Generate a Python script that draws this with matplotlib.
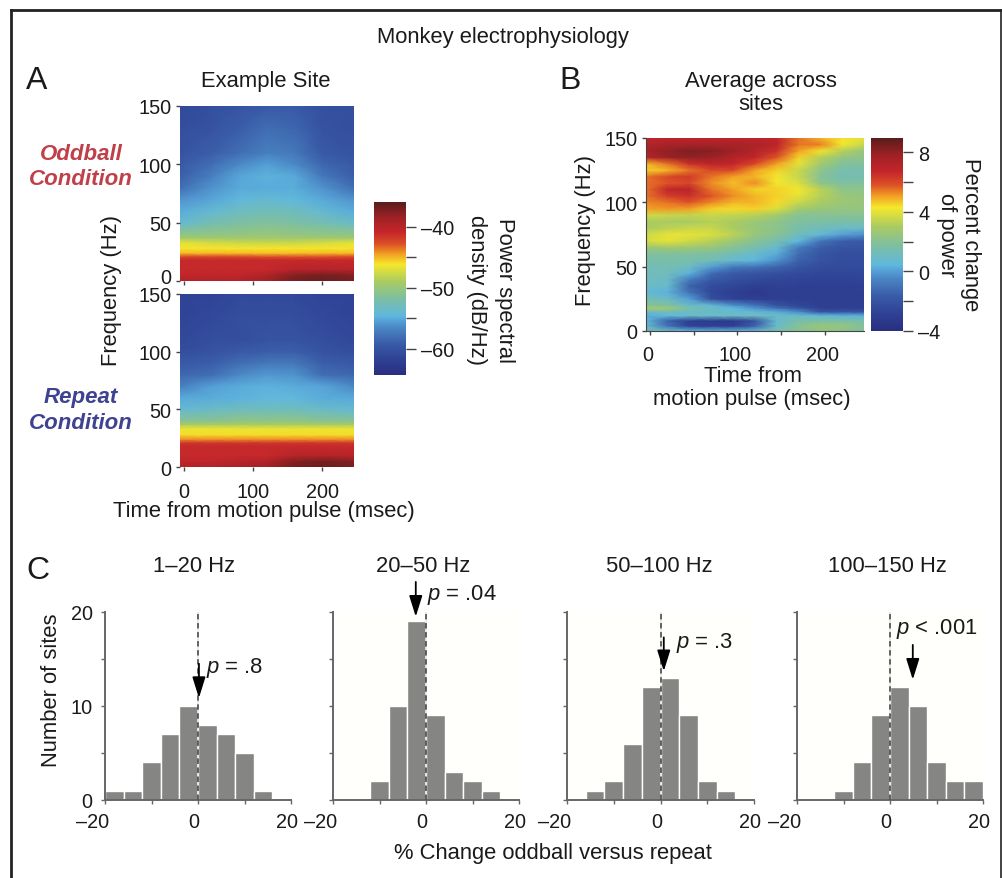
import numpy as np
import matplotlib
matplotlib.use('Agg')
import matplotlib.pyplot as plt
from matplotlib.colors import LinearSegmentedColormap, Normalize
from matplotlib.lines import Line2D
from matplotlib.transforms import ScaledTranslation

plt.rcParams['font.family'] = ['Liberation Sans', 'DejaVu Sans']
plt.rcParams['mathtext.fontset'] = 'custom'
plt.rcParams['mathtext.it'] = 'Liberation Sans:italic'
plt.rcParams['mathtext.rm'] = 'Liberation Sans'

W, H = 1002, 879

# panel A, power in dB/Hz
a_times = [-6, 40, 80, 120, 160, 200, 246]
a_freqs = [0, 5, 10, 18, 21, 24, 28, 33, 37, 40, 50, 60, 70, 80, 90, 100, 110, 130, 150]
oddball = [
    [-39.5, -39.5, -39.5, -38.5, -36.8, -36.5, -37],
    [-40.5, -40.5, -40.5, -39.5, -37.5, -37, -37.5],
    [-41, -41, -41, -41, -40, -39.8, -40],
    [-41, -41, -41, -41, -41, -41, -41],
    [-42.5, -42.5, -42.5, -42.8, -42.8, -42.8, -42.5],
    [-45, -45, -45, -45.2, -45.2, -45, -45],
    [-46, -46, -46, -46, -46, -46, -46],
    [-46.8, -47.5, -47.8, -47.8, -47.8, -47.5, -46.8],
    [-49.5, -49.5, -49.5, -49.5, -49.5, -49.5, -49.5],
    [-50.5, -50.5, -50.3, -50, -50.3, -50.5, -50.5],
    [-54, -52.5, -51.8, -51.5, -51.8, -52.5, -53.5],
    [-55, -54, -53.2, -52.8, -53, -54, -55],
    [-56, -55.3, -54.5, -54, -54.5, -55.2, -56],
    [-58, -56, -55.2, -55, -55, -56, -58],
    [-59, -57, -55.3, -54.8, -55.2, -57.5, -59],
    [-59.5, -58, -56.5, -55.5, -56.5, -58.5, -59.5],
    [-60, -59, -58, -57, -57.5, -59.5, -60],
    [-60.5, -60, -59, -58, -58.5, -60, -60.5],
    [-61, -60.5, -60, -59.5, -59.5, -60.5, -60.5],
]
repeat = [
    [-39.5, -39.5, -39, -38.5, -36.8, -36.5, -37],
    [-40.5, -40.5, -40, -39.5, -37.5, -37, -37.5],
    [-41, -41, -41, -41, -40, -39.8, -40],
    [-41, -41, -41, -41, -41, -41, -41],
    [-41.5, -41.5, -41.5, -41.5, -41.5, -41.5, -41.5],
    [-44, -44, -44, -44, -44, -44, -44],
    [-45.8, -45.8, -45.8, -45.8, -45.8, -45.8, -45.8],
    [-46.5, -46.5, -46.5, -46.5, -46.5, -46.5, -46.5],
    [-49, -49, -49, -49, -49, -49, -49],
    [-51, -51, -50.5, -50.5, -50.5, -51, -51],
    [-54, -53.5, -53, -53, -53, -53.5, -54],
    [-55.2, -55, -54.8, -54.5, -54.5, -55, -55.2],
    [-57, -55.5, -55, -54.8, -55, -55.3, -56.5],
    [-58.5, -58, -56.5, -55.8, -56, -58, -58.5],
    [-59.5, -59, -58, -57.5, -57.5, -59, -59.5],
    [-60.5, -60, -59.5, -59, -59, -60, -60.5],
    [-61, -60.5, -60.5, -60, -60, -60.5, -61],
    [-61.5, -61, -60.5, -60.5, -60.5, -61, -61.5],
    [-61.5, -61.5, -61, -61, -61, -61.5, -61.5],
]

# panel B, percent change
b_times = [-5, 20, 45, 70, 95, 120, 145, 170, 195, 220, 245]
b_freqs = [0, 4, 8, 12, 15, 18, 20, 25, 30, 35, 40, 45, 50, 55, 60, 65, 70, 75, 80, 85, 90, 95,
           100, 105, 110, 115, 120, 125, 130, 135, 140, 145, 150]
average = [
    [1.5, 1, 0.4, 0.3, 0.3, 0.6, 1.3, 2, 2.3, 2.2, 1.8],
    [0.8, -1, -2.8, -3, -3, -1.5, 1, 2, 2.5, 2.4, 1.9],
    [0.5, -1.5, -3, -3.2, -3.3, -2, 0.6, 1.6, 1.7, 1.7, 1.5],
    [0.2, 0.5, 0.8, 0.9, 1, 1.2, 1, 0.8, 0.5, 0.3, 0.3],
    [1, 1.2, 1, 0.9, 0.8, 0.5, 0.2, -0.4, -2, -2, -2],
    [3, 2.8, 1.5, 1, 0.4, -0.3, -1.2, -2, -2.8, -2.8, -2.8],
    [2, 1.8, 0.9, 0.6, -0.3, -1, -2, -2.6, -3, -3, -3],
    [1.4, 1, 0, -2.2, -2.8, -3, -3, -3, -3, -3, -3],
    [0.6, 0.3, -1, -2.5, -3, -3.3, -3, -3, -3, -3, -2.9],
    [1, 0.8, -1.5, -2.4, -2.6, -3, -2.9, -2.9, -3, -3, -2.9],
    [1.2, 1, -0.8, -1.8, -2.2, -2.4, -2.6, -2.7, -2.8, -2.8, -2.8],
    [1.2, 1.2, 0.3, -1.2, -1.8, -2, -2.2, -2.4, -2.6, -2.6, -2.5],
    [1.3, 1.4, 1.1, 0, -0.8, -1, -1.4, -2, -2.3, -2.4, -2.4],
    [1.5, 1.6, 1.5, 1.3, 0.8, 0.4, -0.3, -1.5, -2, -2.3, -2.3],
    [1.8, 1.8, 1.8, 1.7, 1.3, 0.8, 0.2, -1.2, -2, -2.3, -2.2],
    [2.6, 2.8, 2.7, 2.5, 2, 1.5, 0.8, -0.8, -1.6, -2, -2],
    [3.7, 4, 3.6, 3.2, 2.6, 2, 1.5, 0.4, -1, -1.6, -1.8],
    [3.6, 4, 4, 3.8, 3.3, 2.5, 2, 1.2, 0.6, 0, -0.3],
    [3, 3.3, 3.5, 3.5, 3, 2.5, 2.2, 1.6, 1.2, 1, 0.9],
    [3, 3, 3, 3.2, 3, 2.6, 2.2, 1.8, 1.7, 1.6, 1.6],
    [3.6, 3.5, 3.4, 3.5, 3.4, 3.2, 2.8, 2, 2, 2, 2],
    [5, 5.1, 5, 4.5, 4.4, 4.5, 3.8, 2.8, 2.5, 2.4, 2.4],
    [5.3, 5.5, 5.8, 5.3, 4.8, 4.8, 4.4, 3.5, 3, 2.6, 2.5],
    [5.5, 6.2, 6.5, 5.8, 5.2, 4.8, 4.5, 4, 3.2, 2.6, 2.4],
    [5.5, 6.8, 7, 5.5, 5, 4.5, 4.5, 4.2, 3.3, 2.2, 2.2],
    [5.5, 5.8, 6, 5.2, 4.7, 5.2, 4.2, 3.8, 2.2, 1.8, 1.8],
    [5.5, 6, 6.3, 5.5, 5, 4.8, 4.2, 3.5, 2, 1.4, 1.5],
    [4.5, 4.8, 5.5, 6, 6, 5, 4.5, 3.5, 2.2, 1.5, 1.5],
    [4.8, 5.5, 6.5, 7, 6.8, 6, 5, 4, 2.8, 1.9, 1.8],
    [7, 7.8, 8, 7.8, 7.2, 6.8, 5.8, 4.5, 3.2, 2.4, 2.2],
    [7.5, 8, 8.3, 8.2, 7.8, 7.2, 6.5, 5, 4.3, 3.2, 2.4],
    [7.2, 7.5, 7.5, 7.5, 7.5, 7.4, 7, 5.5, 5.4, 4.2, 3.5],
    [6.8, 7, 7, 7, 7, 7, 6.8, 5.5, 4.8, 4.3, 4],
]

# panel C histograms, left bin edges and counts
hist_titles = ['1–20 Hz', '20–50 Hz', '50–100 Hz', '100–150 Hz']
hist_edges = [
    [-20, -16, -12, -8, -4, 0, 4, 8, 12],
    [-12, -8, -4, 0, 4, 8, 12],
    [-16, -12, -8, -4, 0, 4, 8, 12],
    [-12, -8, -4, 0, 4, 8, 12, 16],
]
hist_counts = [
    [1, 1, 4, 7, 10, 8, 7, 5, 1],
    [2, 10, 19, 9, 3, 2, 1],
    [1, 2, 6, 12, 13, 9, 2, 1],
    [1, 4, 9, 12, 10, 4, 2, 2],
]
hist_mean = [0.2, -2.2, 0.7, 4.9]
arrow_tip = [10.85, 19.5, 13.7, 12.8]
arrow_tail = [14.5, 23.2, 17.3, 16.5]
hist_p = ['$p$ = .8', '$p$ = .04', '$p$ = .3', '$p$ < .001']

cmap = LinearSegmentedColormap.from_list('site', [
    (0.0, '#2a2f80'), (0.09, '#2f4295'), (0.18, '#3a5ca8'), (0.27, '#4a86c4'), (0.31, '#559fd6'),
    (0.34, '#5fb8de'), (0.44, '#7dbfa4'), (0.54, '#a9cb62'), (0.64, '#f6e82c'),
    (0.70, '#f2a024'), (0.76, '#dc4f27'), (0.83, '#c4252b'), (0.91, '#a02226'),
    (1.0, '#5b1d1d')])
txt = '#1a1a1a'
fs = 15.8
tick_fs = 14.3


def axes_px(x0, y0, x1, y1):
    # pixel box, y measured from the top of the picture
    return fig.add_axes([x0 / W, 1 - y1 / H, (x1 - x0) / W, (y1 - y0) / H])


def label(x, y, s, **kw):
    kw.setdefault('fontsize', fs)
    kw.setdefault('color', txt)
    kw.setdefault('ha', 'center')
    kw.setdefault('va', 'center')
    # text sits about 2px off its centre because of the descent
    rot = kw.get('rotation', 0)
    if rot == 90:
        x += 3
    elif rot == 270:
        x -= 3
    else:
        y += 2
    fig.text(x / W, 1 - y / H, s, **kw)


def nudge(lab, dx, dy):
    # move one tick label by some pixels
    lab.set_transform(lab.get_transform() + ScaledTranslation(dx / 100, dy / 100, fig.dpi_scale_trans))


def heat(ax, times, freqs, values, norm):
    ax.pcolormesh(times, freqs, np.array(values), cmap=cmap, norm=norm, shading='gouraud')
    ax.set_ylim(0, 150)
    ax.set_yticks([0, 50, 100, 150])
    for s in ax.spines.values():
        s.set_visible(False)
    ax.tick_params(labelsize=tick_fs, length=3, width=1, color='#444444', labelcolor=txt, pad=3)


def colorbar(ax, norm, ticks, minor):
    grad = np.linspace(norm.vmin, norm.vmax, 256).reshape(-1, 1)
    ax.imshow(grad, origin='lower', aspect='auto', cmap=cmap, norm=norm,
              extent=[0, 1, norm.vmin, norm.vmax])
    ax.set_xticks([])
    ax.yaxis.tick_right()
    ax.set_yticks(ticks)
    ax.set_yticklabels([str(t).replace('-', '–') for t in ticks])
    ax.set_yticks(minor, minor=True)
    ax.tick_params(axis='y', which='both', length=7, width=1, color='#444444', labelsize=tick_fs, labelcolor=txt, pad=4)
    for s in ax.spines.values():
        s.set_visible(False)


fig = plt.figure(figsize=(W / 100, H / 100), dpi=100, facecolor='white')

# frame around the figure
for xs, ys, lw in [([11, 11], [879, 11], 2), ([11, 1001], [11, 11], 2), ([1001, 1001], [11, 879], 1.2)]:
    fig.add_artist(Line2D([x / W for x in xs], [1 - y / H for y in ys], color='#222222', lw=lw))

label(503, 35, 'Monkey electrophysiology')
label(37, 79, 'A', fontsize=23)
label(570, 79, 'B', fontsize=23)
label(38, 569, 'C', fontsize=23)

# panel A
norm_a = Normalize(-64.3, -35.9)
ax_odd = axes_px(180, 107, 354, 282)
ax_rep = axes_px(180, 295, 354, 468)
for ax, vals in [(ax_odd, oddball), (ax_rep, repeat)]:
    heat(ax, a_times, a_freqs, vals, norm_a)
    ax.set_xlim(-5.8, 246)
    ax.set_xticks([0, 100, 200])
ax_odd.set_xticklabels([])
ax_rep.tick_params(axis='x', pad=8)
nudge(ax_odd.get_yticklabels()[0], 0, 6)
label(266, 79, 'Example Site')
label(264, 510, 'Time from motion pulse (msec)')
label(108, 291, 'Frequency (Hz)', rotation=90)
label(81, 152, 'Oddball', color='#c0404a', fontweight='bold', fontstyle='italic', fontsize=16)
label(81, 178, 'Condition', color='#c0404a', fontweight='bold', fontstyle='italic', fontsize=16)
label(81, 396, 'Repeat', color='#3f4290', fontweight='bold', fontstyle='italic', fontsize=16)
label(81, 422, 'Condition', color='#3f4290', fontweight='bold', fontstyle='italic', fontsize=16)

colorbar(axes_px(374, 203, 406, 376), norm_a, [-60, -50, -40], [-55, -45])
label(508, 290, 'Power spectral', rotation=270)
label(480, 290, 'density (dB/Hz)', rotation=270)

# panel B
norm_b = Normalize(-4, 8.94)
ax_avg = axes_px(646, 139, 864, 332)
heat(ax_avg, b_times, b_freqs, average, norm_b)
ax_avg.set_xlim(-4.6, 245)
ax_avg.set_xticks([0, 100, 200])
ax_avg.set_xticks([50, 150], minor=True)
ax_avg.tick_params(axis='x', which='both', length=3, width=1, color='#444444', pad=7)
for side in ['left', 'bottom']:
    ax_avg.spines[side].set_visible(True)
    ax_avg.spines[side].set_color('#444444')
for lab in ax_avg.get_xticklabels():
    nudge(lab, -2, 0)
label(761, 79, 'Average across')
label(761, 102, 'sites')
label(753, 374, 'Time from')
label(752, 398, 'motion pulse (msec)')
label(582, 230, 'Frequency (Hz)', rotation=90)

colorbar(axes_px(871, 139, 903, 332), norm_b, [-4, 0, 4, 8], [-2, 2, 6])
label(973, 235, 'Percent change', rotation=270)
label(949, 235, 'of power', rotation=270)

# panel C
hist_boxes = [(105, 291), (333, 519), (567, 754), (797, 983)]
for i, (x0, x1) in enumerate(hist_boxes):
    ax = axes_px(x0, 613, x1, 801)
    ax.set_facecolor('white' if i == 0 else '#fffffc')
    ax.bar(hist_edges[i], hist_counts[i], width=4, align='edge', color='#858683',
           edgecolor='white', linewidth=1, zorder=2)
    ax.plot([0, 0], [0, 20], color='#555555', lw=1.3, ls=(0, (3, 2)), gapcolor='#e8e8e8', zorder=3)
    ax.set_xlim(-20, 20)
    ax.set_ylim(0, 20)
    ax.set_xticks([-20, 0, 20])
    ax.set_xticklabels(['–20', '0', '20'])
    ax.set_xticks([-10, 10], minor=True)
    ax.set_yticks([0, 10, 20])
    ax.set_yticks([5, 15], minor=True)
    if i > 0:
        ax.set_yticklabels([])
    ax.tick_params(which='both', length=3, width=1, color='#666666', labelsize=tick_fs, labelcolor=txt, pad=6)
    xlabs = ax.get_xticklabels()
    nudge(xlabs[0], -12, 0)
    nudge(xlabs[1], -4, 0)
    nudge(xlabs[2], -4, 0)
    ax.spines['top'].set_visible(False)
    ax.spines['right'].set_visible(False)
    for side in ['left', 'bottom']:
        ax.spines[side].set_color('#666666')
        ax.spines[side].set_linewidth(1.4)

    ax.annotate('', xy=(hist_mean[i], arrow_tip[i]), xytext=(hist_mean[i], arrow_tail[i]),
                arrowprops=dict(arrowstyle='-|>,head_width=0.25,head_length=0.8', color='black',
                                lw=1.3, shrinkA=0, shrinkB=0, mutation_scale=16),
                annotation_clip=False, zorder=5)

label(49, 690, 'Number of sites', rotation=90)
label(194, 564, hist_titles[0])
label(423, 564, hist_titles[1])
label(659, 564, hist_titles[2])
label(887, 564, hist_titles[3])
label(235, 666, hist_p[0])
label(462, 593, hist_p[1])
label(705, 641, hist_p[2])
label(937, 627, hist_p[3])
label(553, 852, '% Change oddball versus repeat')

fig.savefig('out.png', dpi=100)
